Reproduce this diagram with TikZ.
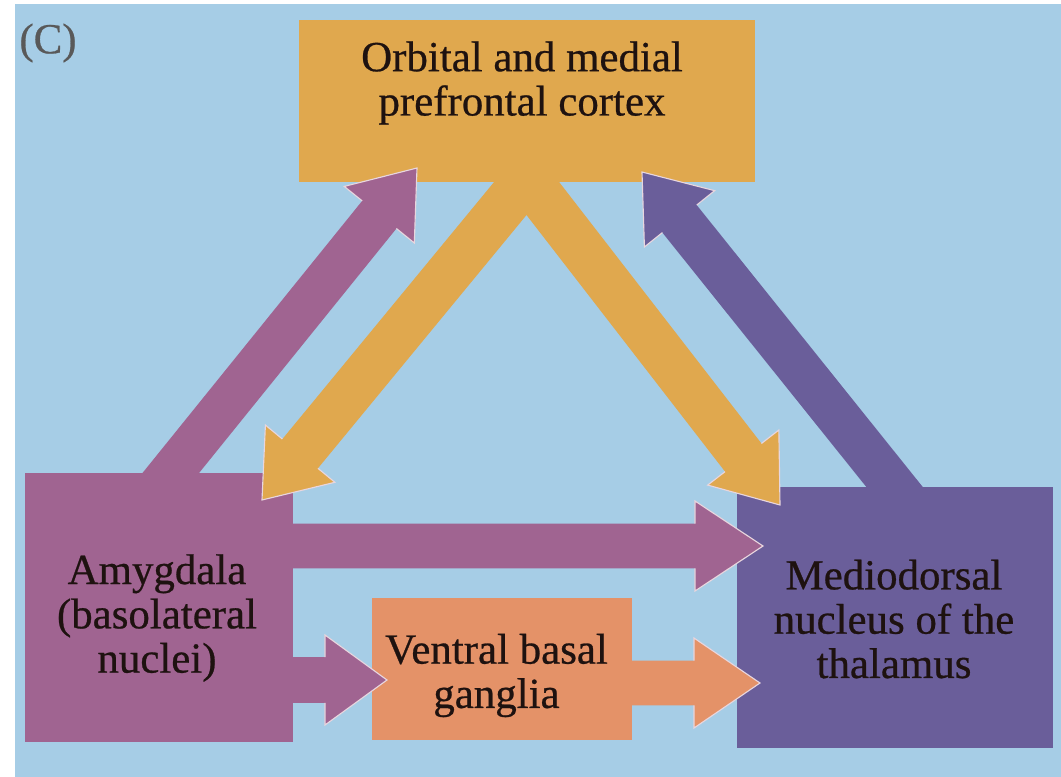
\documentclass[tikz,border=0pt]{standalone}
\usepackage{fontspec}
\setmainfont{Liberation Serif}[FakeBold=0.6]
\usetikzlibrary{calc}

\definecolor{bgblue}{RGB}{166,205,230}
\definecolor{pfcgold}{RGB}{224,168,78}
\definecolor{amymauve}{RGB}{160,100,145}
\definecolor{thalpurple}{RGB}{106,94,154}
\definecolor{vbgsalmon}{RGB}{228,146,104}
\definecolor{inkcol}{RGB}{30,18,16}
\definecolor{paleedge}{RGB}{232,214,222}

\tikzset{
  box/.style={inner sep=0pt, outer sep=0pt},
  lbl/.style={align=center, text=inkcol, inner sep=0pt, font=\fontsize{30.5}{31.5}\selectfont},
  headedge/.style={draw=paleedge, line width=0.8pt}
}

% colour, from, to, half shaft width, head length
\newcommand{\blockarrow}[5]{%
  \coordinate (hb) at ($(#3)!#5!(#2)$);
  \fill[#1] ($(#2)!#4!90:(#3)$) -- ($(hb)!#4!90:(#3)$) -- ($(hb)!1.125cm!90:(#3)$) -- (#3)
    -- ($(hb)!1.125cm!-90:(#3)$) -- ($(hb)!#4!-90:(#3)$) -- ($(#2)!#4!-90:(#3)$) -- cycle;
  \draw[headedge] ($(hb)!#4!90:(#3)$) -- ($(hb)!1.125cm!90:(#3)$) -- (#3)
    -- ($(hb)!1.125cm!-90:(#3)$) -- ($(hb)!#4!-90:(#3)$);
}

\begin{document}
\begin{tikzpicture}[x=0.025cm, y=-0.025cm]
\useasboundingbox (0,0) rectangle (1061,777);
\fill[bgblue] (15,4) rectangle (1061,777);

% boxes
\node[box, fill=pfcgold, minimum width=11.4cm, minimum height=4.05cm] (pfc) at (527,101) {};
\node[box, fill=amymauve, minimum width=6.7cm, minimum height=6.725cm] (amy) at (159,607.5) {};
\node[box, fill=thalpurple, minimum width=7.9cm, minimum height=6.525cm] (thal) at (895,617.5) {};
\node[box, fill=vbgsalmon, minimum width=6.5cm, minimum height=3.55cm] (vbg) at (502,669) {};

% arrow ends
\coordinate (pfc-out-l) at (542,160);
\coordinate (amy-in) at (262,500);
\coordinate (pfc-out-r) at (513,160);
\coordinate (thal-in-t) at (780,505);
\coordinate (amy-out) at (153,495);
\coordinate (pfc-in-l) at (417,168);
\coordinate (thal-out) at (913,510);
\coordinate (pfc-in-r) at (642,172);
\coordinate (amy-out-m) at (280,546);
\coordinate (thal-in-m) at (763,546);
\coordinate (amy-out-b) at (280,680);
\coordinate (vbg-in) at (387,680);
\coordinate (vbg-out) at (620,683);
\coordinate (thal-in-b) at (760,683);

\blockarrow{pfcgold}{pfc-out-l}{amy-in}{0.575cm}{1.5cm}
\blockarrow{pfcgold}{pfc-out-r}{thal-in-t}{0.575cm}{1.5cm}
\blockarrow{amymauve}{amy-out}{pfc-in-l}{0.55cm}{1.5cm}
\blockarrow{thalpurple}{thal-out}{pfc-in-r}{0.55cm}{1.5cm}
\blockarrow{amymauve}{amy-out-m}{thal-in-m}{0.56cm}{1.7cm}
\blockarrow{amymauve}{amy-out-b}{vbg-in}{0.57cm}{1.55cm}
\blockarrow{vbgsalmon}{vbg-out}{thal-in-b}{0.56cm}{1.65cm}

% labels
\node[lbl] (pfc-txt) at (522,83) {Orbital and medial\\prefrontal cortex};
\node[lbl] (amy-txt) at (157,618) {Amygdala\\(basolateral\\nuclei)};
\node[lbl] (thal-txt) at (894,619) {Mediodorsal\\nucleus of the\\thalamus};
\node[lbl] (vbg-txt) at (496.5,675.5) {Ventral basal\\ganglia};
\node[lbl, text=gray!70!black] (panel) at (48,43) {(C)};

\end{tikzpicture}
\end{document}
